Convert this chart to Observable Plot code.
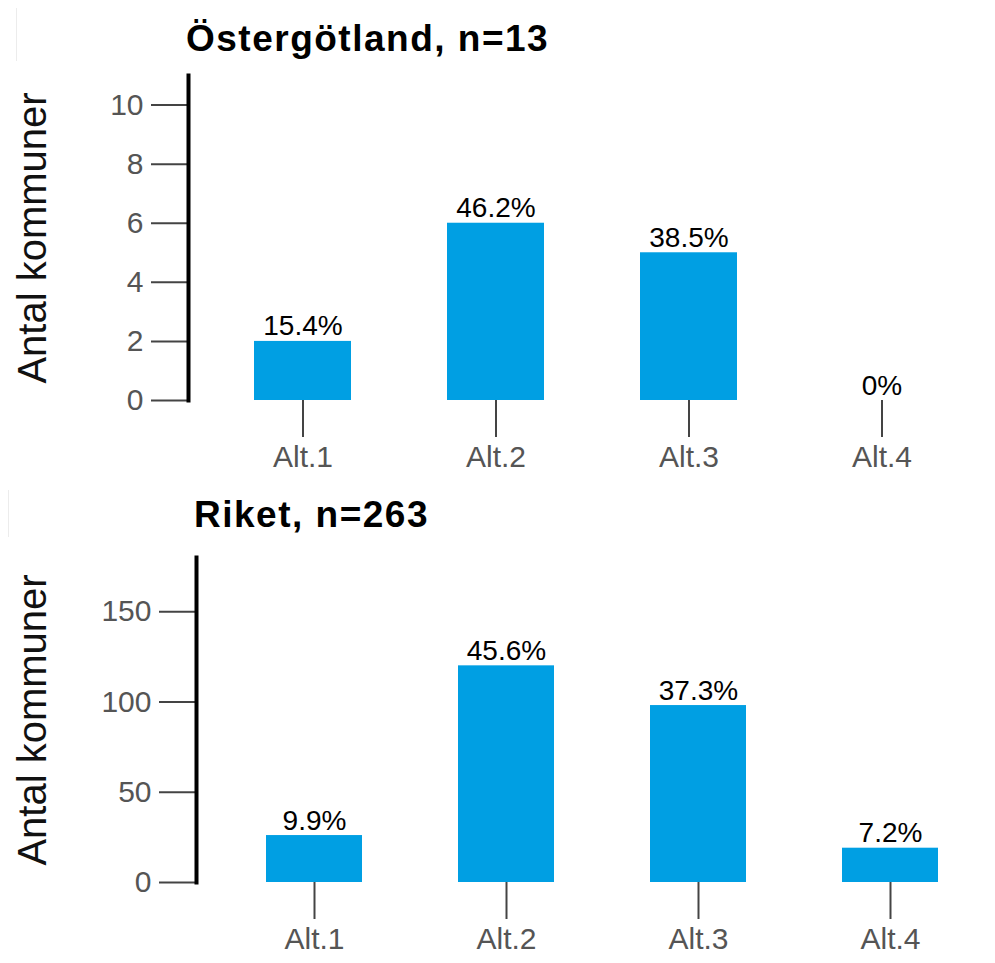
<!DOCTYPE html>
<html>
<head>
<meta charset="utf-8">
<script src="https://cdn.jsdelivr.net/npm/d3@7"></script>
<script src="https://cdn.jsdelivr.net/npm/@observablehq/plot@0.6"></script>
<style>
  html, body { margin: 0; padding: 0; background: #fff; }
  body { width: 995px; height: 963px; position: relative; overflow: hidden;
         font-family: "Liberation Sans", Arial, Helvetica, sans-serif; }
  .panel { position: absolute; left: 0; width: 995px; }
  .title { font-weight: bold; font-size: 37px; line-height: 44px; letter-spacing: 1.5px; color: #000; white-space: nowrap; }
  .edge { position: absolute; width: 1px; background: #ececec; }
  svg { display: block; }
</style>
</head>
<body>
<div class="edge" style="left:16px; top:8px; height:480px;"></div>
<div class="edge" style="left:8px; top:490px; height:473px;"></div>
<div id="p1" class="panel" style="top:0;"></div>
<div id="p2" class="panel" style="top:490px;"></div>
<script>
// ---- data ----
const categories = ["Alt.1", "Alt.2", "Alt.3", "Alt.4"];

const titleTop = "Östergötland, n=13";
const countsTop = [2, 6, 5, 0];
const pctTop = [15.4, 46.2, 38.5, 0];
const ticksTop = [0, 2, 4, 6, 8, 10];
const yMaxTop = 11;

const titleBottom = "Riket, n=263";
const countsBottom = [26, 120, 98, 19];
const pctBottom = [9.9, 45.6, 37.3, 7.2];
const ticksBottom = [0, 50, 100, 150];
const yMaxBottom = 180;

const yLabel = "Antal kommuner";
const barColor = "#009fe3";
const font = "'Liberation Sans', Arial, Helvetica, sans-serif";

function fmtPct(v) { return v === 0 ? "0%" : v.toFixed(1) + "%"; }

function panel(el, opts) {
  const rows = categories.map((c, i) => ({cat: c, n: opts.counts[i], pct: fmtPct(opts.pct[i])}));
  const t = document.createElement("div");
  t.className = "title";
  t.style.paddingLeft = opts.titleLeft + "px";
  t.style.paddingTop = opts.titlePadTop + "px";
  t.textContent = opts.title;
  el.appendChild(t);

  const chart = Plot.plot({
    width: 995,
    height: opts.height,
    marginLeft: opts.marginLeft,
    marginRight: 0,
    marginTop: opts.marginTop,
    marginBottom: opts.marginBottom,
    style: {fontFamily: font, background: "#fff", overflow: "visible"},
    x: {type: "band", domain: categories, paddingInner: 0.5, paddingOuter: opts.paddingOuter, align: opts.align},
    y: {domain: [0, opts.yMax]},
    marks: [
      Plot.barY(rows, {x: "cat", y: "n", fill: barColor}),
      Plot.text(rows, {x: "cat", y: "n", text: "pct", lineAnchor: "bottom", dy: -6, fontSize: 28, fill: "#000"}),
      Plot.axisY({ticks: opts.ticks, tickSize: 37, tickPadding: 8, fontSize: 30, fill: "#555", stroke: "#444", strokeWidth: 2, label: null}),
      Plot.axisX({tickSize: 37, tickPadding: 8, fontSize: 30, fill: "#555", stroke: "#444", strokeWidth: 2, label: null}),
      Plot.frame({anchor: "left", stroke: "#000", strokeWidth: 4}),
      Plot.text([yLabel], {frameAnchor: "left", textAnchor: "middle", lineAnchor: "middle", rotate: -90, dx: -(opts.marginLeft - 33), fontSize: 40, fill: "#111"})
    ]
  });
  el.appendChild(chart);
}

panel(document.getElementById("p1"), {
  title: titleTop, counts: countsTop, pct: pctTop, ticks: ticksTop, yMax: yMaxTop,
  titleLeft: 186, titlePadTop: 17,
  height: 429, marginTop: 14, marginBottom: 90, marginLeft: 188,
  paddingOuter: 0.34, align: 0.5
});

panel(document.getElementById("p2"), {
  title: titleBottom, counts: countsBottom, pct: pctBottom, ticks: ticksBottom, yMax: yMaxBottom,
  titleLeft: 194, titlePadTop: 3,
  height: 426, marginTop: 20, marginBottom: 81, marginLeft: 196,
  paddingOuter: 0.32, align: 0.55
});
</script>
</body>
</html>
